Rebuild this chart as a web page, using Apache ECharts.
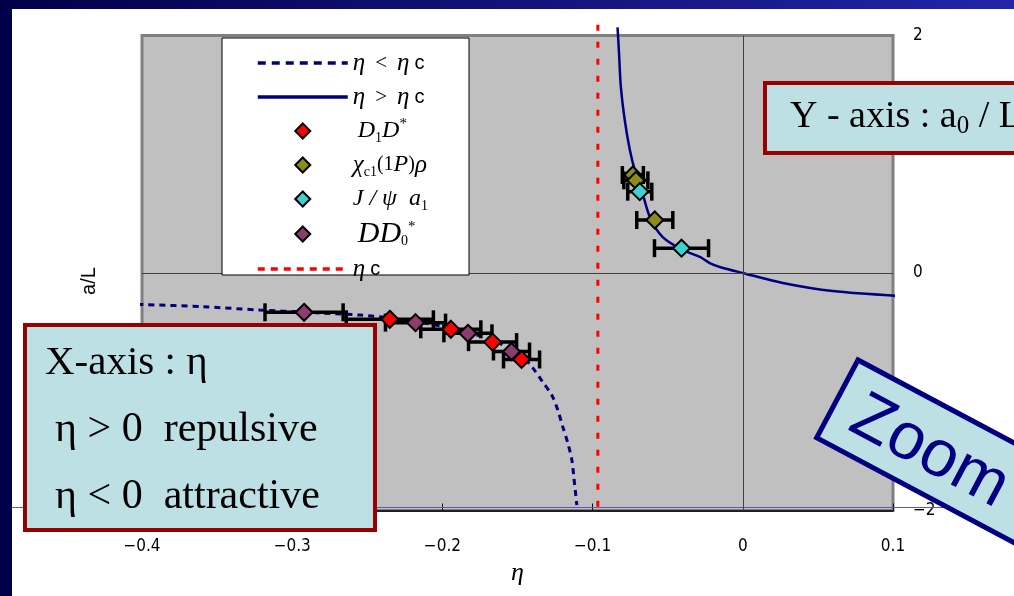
<!DOCTYPE html>
<html>
<head>
<meta charset="utf-8">
<script src="https://cdn.jsdelivr.net/npm/echarts@6/dist/echarts.min.js"></script>
<style>
html, body { margin: 0; padding: 0; background: #fff; }
#chart { width: 1014px; height: 596px; }
</style>
</head>
<body>
<div id="chart"></div>
<script>
// curves: [eta, a/L]
var curveBelow = [
    [-0.4030, -0.264], [-0.3595, -0.284], [-0.3216, -0.312], [-0.2921, -0.330],
    [-0.2550, -0.354], [-0.2350, -0.378], [-0.1950, -0.462], [-0.1670, -0.565],
    [-0.1480, -0.690], [-0.1398, -0.800], [-0.1332, -0.918], [-0.1272, -1.027],
    [-0.1232, -1.154], [-0.1198, -1.297], [-0.1165, -1.432], [-0.1138, -1.575],
    [-0.1125, -1.718], [-0.1105, -1.954]
];
var curveAbove = [
    [-0.0834, 2.069], [-0.0824, 1.850], [-0.0812, 1.569], [-0.0786, 1.288],
    [-0.0752, 1.036], [-0.0719, 0.867], [-0.0686, 0.758], [-0.0619, 0.472],
    [-0.0533, 0.303], [-0.0399, 0.194], [-0.0286, 0.135], [-0.0220, 0.084],
    [-0.0153, 0.051], [0, 0], [0.0266, -0.084], [0.0599, -0.152], [0.1059, -0.194]
];
var etaC = -0.0965;
var etaCLine = [[etaC, 2.09], [etaC, -2]];

// points: eta, a/L, horizontal error
var d1dEta = [-0.2350, -0.1944, -0.1666, -0.1473];
var d1dA   = [-0.390, -0.474, -0.582, -0.728];
var d1dErr = [0.029, 0.020, 0.016, 0.012];

var chiEta = [-0.0732, -0.0712, -0.0586];
var chiA   = [0.825, 0.780, 0.446];
var chiErr = [0.007, 0.008, 0.012];

var jpsiEta = [-0.0686, -0.0408];
var jpsiA   = [0.685, 0.209];
var jpsiErr = [0.008, 0.018];

var dd0Eta = [-0.2921, -0.2179, -0.1830, -0.1540];
var dd0A   = [-0.331, -0.418, -0.508, -0.661];
var dd0Err = [0.026, 0.020, 0.016, 0.012];

var xTicks = [-0.4, -0.3, -0.2, -0.1, 0, 0.1];

function pts(eta, a) {
    return eta.map(function (e, i) { return [e, a[i]]; });
}
function bars(eta, a, err) {
    return eta.map(function (e, i) { return [e, a[i], e - err[i], e + err[i]]; });
}
var errData = [].concat(
    bars(d1dEta, d1dA, d1dErr), bars(chiEta, chiA, chiErr),
    bars(jpsiEta, jpsiA, jpsiErr), bars(dd0Eta, dd0A, dd0Err)
);

function renderErr(params, api) {
    var lo = api.coord([api.value(2), api.value(1)]);
    var hi = api.coord([api.value(3), api.value(1)]);
    var h = 9;
    var st = { stroke: '#000', lineWidth: 3.5 };
    return {
        type: 'group',
        children: [
            { type: 'line', shape: { x1: lo[0], y1: lo[1], x2: hi[0], y2: hi[1] }, style: st },
            { type: 'line', shape: { x1: lo[0], y1: lo[1] - h, x2: lo[0], y2: lo[1] + h }, style: st },
            { type: 'line', shape: { x1: hi[0], y1: hi[1] - h, x2: hi[0], y2: hi[1] + h }, style: st }
        ]
    };
}

var legendText = {
    'below': '{m|η}  {o|<}  {m|η} {s|c}',
    'above': '{m|η}  {o|>}  {m|η} {s|c}',
    'D1D': ' {D|D}{sb|1}{D|D}{sp|*}',
    'chi': '{m|χ}{sb|c1}{u|(1}{D|P}{u|)}{m|ρ}',
    'jpsi': '{D|J / ψ  a}{sb|1}',
    'DD0': ' {DL|DD}{sb|0}{sp|*}',
    'etac': '{m|η} {s|c}'
};

var diamondIcon = 'path://M0,-1L1,0L0,1L-1,0Z';
var noDot = { color: 'rgba(0,0,0,0)', borderWidth: 0 };

var chartDom = document.getElementById('chart');
var myChart = echarts.init(chartDom);
var option;

var box = { fill: '#bde0e4', stroke: '#990000', lineWidth: 4 };
var serif = 'Liberation Serif';
var tickFont = "'DejaVu Sans Condensed', 'Liberation Sans', sans-serif";

option = {
    backgroundColor: '#fff',
    animation: false,
    grid: {
        left: 142, right: 121, top: 35.5, bottom: 85.5,
        show: true, backgroundColor: '#c0c0c0', borderColor: '#808080', borderWidth: 3
    },
    xAxis: {
        type: 'value', min: -0.4, max: 0.1, interval: 0.1,
        name: 'η', nameLocation: 'middle', nameGap: 30,
        nameTextStyle: { fontFamily: serif, fontStyle: 'italic', fontSize: 26, color: '#000' },
        axisLine: { show: true, onZero: false, lineStyle: { color: '#000', width: 1.5 } },
        axisTick: { show: true, inside: true, length: 7, lineStyle: { color: '#000' } },
        splitLine: { show: false },
        axisLabel: {
            margin: 28, color: '#000', fontFamily: tickFont, fontSize: 17,
            formatter: function (v) {
                var t = xTicks.reduce(function (b, c) { return Math.abs(c - v) < Math.abs(b - v) ? c : b; });
                return t === 0 ? '0' : String(t).replace('-', '\u2212');
            }
        }
    },
    yAxis: {
        type: 'value', min: -2, max: 2, interval: 2, position: 'right',
        axisLine: { show: false }, axisTick: { show: false }, splitLine: { show: false },
        axisLabel: {
            margin: 20, color: '#000', fontFamily: tickFont, fontSize: 17,
            formatter: function (v) { return String(v).replace('-', '\u2212'); }
        }
    },
    legend: {
        orient: 'vertical', left: 256, top: 49, padding: 0, z: 8,
        itemWidth: 90, itemHeight: 15, itemGap: 6, symbolKeepAspect: true,
        data: [
            { name: 'below', itemStyle: noDot,
              lineStyle: { color: '#000080', width: 3.5, type: [8, 6] } },
            { name: 'above', itemStyle: noDot,
              lineStyle: { color: '#000080', width: 3.5, type: 'solid' } },
            { name: 'D1D', icon: diamondIcon },
            { name: 'chi', icon: diamondIcon },
            { name: 'jpsi', icon: diamondIcon },
            { name: 'DD0', icon: diamondIcon },
            { name: 'etac', itemStyle: noDot,
              lineStyle: { color: '#ff0000', width: 3.5, type: [7, 6] } }
        ],
        selectedMode: false,
        formatter: function (name) { return legendText[name]; },
        textStyle: {
            fontFamily: serif, fontSize: 20, color: '#000', lineHeight: 28,
            rich: {
                m: { fontFamily: serif, fontStyle: 'italic', fontSize: 25, lineHeight: 28 },
                s: { fontFamily: 'Liberation Sans', fontSize: 20, lineHeight: 28 },
                o: { fontFamily: serif, fontSize: 21, lineHeight: 28 },
                u: { fontFamily: serif, fontSize: 20, lineHeight: 28 },
                D: { fontFamily: serif, fontStyle: 'italic', fontSize: 24, lineHeight: 28 },
                DL: { fontFamily: serif, fontStyle: 'italic', fontSize: 30, lineHeight: 28 },
                sb: { fontFamily: serif, fontSize: 14, lineHeight: 13, verticalAlign: 'bottom' },
                sp: { fontFamily: serif, fontSize: 15, lineHeight: 13, verticalAlign: 'top' }
            }
        }
    },
    graphic: [
        { type: 'rect', z: 6, shape: { x: 222, y: 38, width: 247, height: 237 },
          style: { fill: '#fff', stroke: '#000', lineWidth: 1 } },
        { type: 'rect', z: 20, shape: { x: 0, y: 0, width: 12, height: 596 }, style: { fill: '#00004a' } },
        { type: 'rect', z: 20, shape: { x: 0, y: 0, width: 1014, height: 9 },
          style: { fill: new echarts.graphic.LinearGradient(0, 0, 1, 0, [
              { offset: 0, color: '#000048' }, { offset: 1, color: '#2424a8' }]) } },
        { type: 'line', z: 5, shape: { x1: 12, y1: 507.5, x2: 1014, y2: 507.5 },
          style: { stroke: '#5a5ab4', lineWidth: 1 } },
        { type: 'text', z: 5, x: 89, y: 281, rotation: Math.PI / 2,
          style: { text: 'a/L', fontFamily: 'Liberation Sans', fontSize: 20, fill: '#000',
                   align: 'center', verticalAlign: 'middle' } },
        { type: 'rect', z: 10, shape: { x: 25, y: 325, width: 350, height: 205 }, style: box },
        { type: 'text', z: 11, x: 45, y: 363,
          style: { text: 'X-axis : η', fontFamily: serif, fontSize: 41, fill: '#000', verticalAlign: 'middle' } },
        { type: 'text', z: 11, x: 55, y: 430,
          style: { text: 'η > 0  repulsive', fontFamily: serif, fontSize: 42, fill: '#000', verticalAlign: 'middle' } },
        { type: 'text', z: 11, x: 55, y: 497,
          style: { text: 'η < 0  attractive', fontFamily: serif, fontSize: 42, fill: '#000', verticalAlign: 'middle' } },
        { type: 'rect', z: 10, shape: { x: 765, y: 83, width: 300, height: 70 }, style: box },
        { type: 'text', z: 11, x: 790, y: 117,
          style: { text: '{t|Y - axis : a}{z|0}{t| / L}', fill: '#000', verticalAlign: 'middle',
                   rich: { t: { fontFamily: serif, fontSize: 38, lineHeight: 44 },
                           z: { fontFamily: serif, fontSize: 25, lineHeight: 44, verticalAlign: 'bottom' } } } },
        { type: 'group', z: 10, x: 858, y: 360, rotation: -28 * Math.PI / 180,
          children: [
              { type: 'rect', z: 10, shape: { x: 0, y: 0, width: 320, height: 88 },
                style: { fill: '#bde0e4', stroke: '#000080', lineWidth: 5 } },
              { type: 'text', z: 11, x: 22, y: 48,
                style: { text: 'Zoom', fontFamily: 'Liberation Sans', fontSize: 66, fill: '#000080',
                         verticalAlign: 'middle' } }
          ] }
    ],
    series: [
        {
            name: 'below', type: 'line', data: curveBelow, symbol: 'none', smooth: 0.3, clip: false, z: 2,
            lineStyle: { color: '#000080', width: 3, type: [6, 5] }, itemStyle: { color: '#000080' }
        },
        {
            name: 'above', type: 'line', data: curveAbove, symbol: 'none', smooth: 0.3, clip: false, z: 2,
            lineStyle: { color: '#000080', width: 2.5 }, itemStyle: { color: '#000080' },
            markLine: {
                silent: true, symbol: 'none', label: { show: false },
                lineStyle: { color: '#404040', width: 1, type: 'solid' },
                data: [{ xAxis: 0 }, { yAxis: 0 }]
            }
        },
        {
            name: 'etac', type: 'line', data: etaCLine, symbol: 'none', clip: false, z: 2,
            lineStyle: { color: '#ff0000', width: 3, type: [6, 11] }, itemStyle: { color: '#ff0000' }
        },
        {
            name: 'err', type: 'custom', renderItem: renderErr, data: errData, z: 3,
            encode: { x: 0, y: 1 }, silent: true
        },
        {
            name: 'D1D', type: 'scatter', data: pts(d1dEta, d1dA), symbol: 'diamond', symbolSize: 17, z: 4,
            itemStyle: { color: '#ff0000', borderColor: '#000', borderWidth: 2, opacity: 1 }
        },
        {
            name: 'chi', type: 'scatter', data: pts(chiEta, chiA), symbol: 'diamond', symbolSize: 17, z: 4,
            itemStyle: { color: '#8c8c1e', borderColor: '#000', borderWidth: 2, opacity: 1 }
        },
        {
            name: 'jpsi', type: 'scatter', data: pts(jpsiEta, jpsiA), symbol: 'diamond', symbolSize: 17, z: 4,
            itemStyle: { color: '#3cd2d2', borderColor: '#000', borderWidth: 2, opacity: 1 }
        },
        {
            name: 'DD0', type: 'scatter', data: pts(dd0Eta, dd0A), symbol: 'diamond', symbolSize: 17, z: 4,
            itemStyle: { color: '#8c3c6e', borderColor: '#000', borderWidth: 2, opacity: 1 }
        }
    ]
};

option && myChart.setOption(option);
</script>
</body>
</html>
